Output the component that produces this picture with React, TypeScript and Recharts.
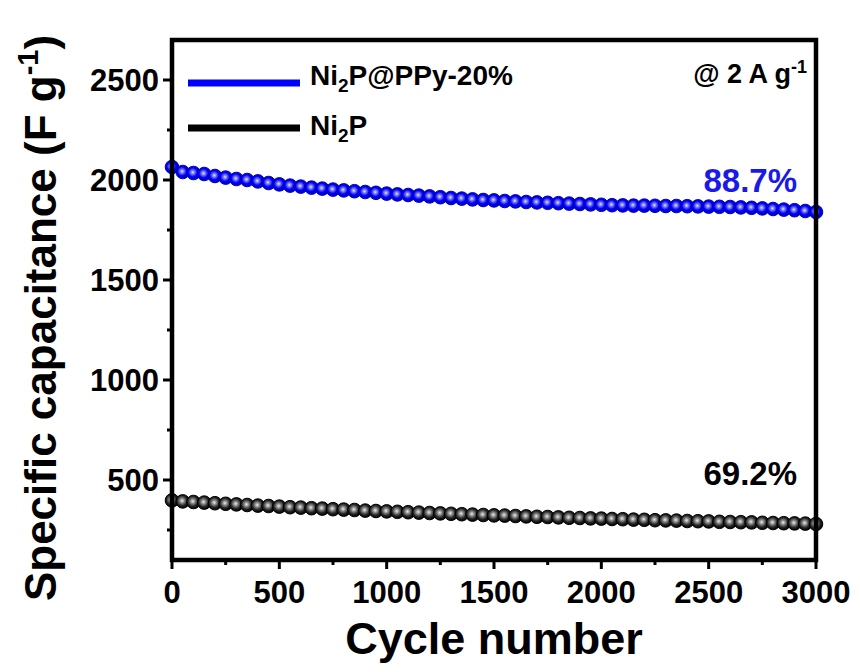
import React from 'react';
import {
  LineChart,
  Line,
  XAxis,
  YAxis
} from 'recharts';

const cycles = [
  0, 50, 100, 150, 200, 250, 300, 350, 400, 450,
  500, 550, 600, 650, 700, 750, 800, 850, 900, 950,
  1000, 1050, 1100, 1150, 1200, 1250, 1300, 1350, 1400, 1450,
  1500, 1550, 1600, 1650, 1700, 1750, 1800, 1850, 1900, 1950,
  2000, 2050, 2100, 2150, 2200, 2250, 2300, 2350, 2400, 2450,
  2500, 2550, 2600, 2650, 2700, 2750, 2800, 2850, 2900, 2950,
  3000
];

const ni2pPpy = [
  2065, 2040, 2035, 2030, 2020, 2012, 2005, 2000, 1993, 1985,
  1978, 1972, 1967, 1962, 1957, 1952, 1948, 1944, 1940, 1936,
  1932, 1928, 1925, 1922, 1918, 1914, 1910, 1907, 1903, 1900,
  1898, 1895, 1893, 1890, 1888, 1886, 1884, 1882, 1880, 1878,
  1876, 1874, 1873, 1872, 1872, 1871, 1870, 1870, 1869, 1868,
  1867, 1866, 1865, 1863, 1861, 1858, 1855, 1852, 1849, 1845,
  1840
];

const ni2p = [
  398, 393, 390, 387, 384, 381, 378, 375, 372, 370,
  367, 364, 362, 359, 357, 354, 352, 350, 347, 345,
  343, 341, 339, 337, 335, 333, 331, 329, 327, 325,
  323, 322, 320, 318, 316, 315, 313, 311, 310, 308,
  307, 305, 304, 302, 301, 299, 298, 297, 295, 294,
  293, 291, 290, 289, 288, 286, 285, 284, 283, 282,
  280
];

const xTicks = [0, 250, 500, 750, 1000, 1250, 1500, 1750, 2000, 2250, 2500, 2750, 3000];
const yTicks = [250, 500, 750, 1000, 1250, 1500, 1750, 2000, 2250, 2500];

const data = cycles.map((c, i) => ({ cycle: c, hybrid: ni2pPpy[i], bare: ni2p[i] }));

const FONT = '"Liberation Sans", Arial, sans-serif';

// plot box (matches the chart margins / axis sizes below)
const PLOT = { left: 172, top: 40, right: 816, bottom: 560 };

const XTick = (props: any) => {
  const { x, y, payload } = props;
  const major = payload.value % 500 === 0;
  return (
    <g>
      <line x1={x} x2={x} y1={y} y2={y + (major ? 9 : 5)} stroke="#000" strokeWidth={3} />
      {major && (
        <text x={x} y={y + 43} textAnchor="middle" fontFamily={FONT} fontWeight="bold" fontSize={31} fill="#000">
          {payload.value}
        </text>
      )}
    </g>
  );
};

const YTick = (props: any) => {
  const { x, y, payload } = props;
  const major = payload.value % 500 === 0;
  return (
    <g>
      <line x1={x} x2={x - (major ? 9 : 5)} y1={y} y2={y} stroke="#000" strokeWidth={3} />
      {major && (
        <text x={x - 13} y={y + 11} textAnchor="end" fontFamily={FONT} fontWeight="bold" fontSize={31} fill="#000">
          {payload.value}
        </text>
      )}
    </g>
  );
};

const BlueDot = (props: any) => {
  const { cx, cy, index } = props;
  return <circle key={'b' + index} cx={cx} cy={cy} r={6.8} fill="url(#ballBlue)" stroke="#0000b8" strokeWidth={1} />;
};

const BlackDot = (props: any) => {
  const { cx, cy, index } = props;
  return <circle key={'k' + index} cx={cx} cy={cy} r={6.8} fill="url(#ballBlack)" stroke="#000" strokeWidth={1} />;
};

export default function App() {
  return (
    <div style={{ position: 'relative', width: 860, height: 672 }}>
      <style>{'body{margin:0}'}</style>
      <LineChart
        width={860}
        height={672}
        data={data}
        margin={{ top: PLOT.top, right: 860 - PLOT.right, bottom: 0, left: 0 }}
      >
        <defs>
          <radialGradient id="ballBlue" cx="45%" cy="45%" r="55%">
            <stop offset="0%" stopColor="#e8e8ff" />
            <stop offset="25%" stopColor="#7a7aff" />
            <stop offset="60%" stopColor="#0000f5" />
            <stop offset="100%" stopColor="#0000c8" />
          </radialGradient>
          <radialGradient id="ballBlack" cx="45%" cy="45%" r="55%">
            <stop offset="0%" stopColor="#eeeeee" />
            <stop offset="28%" stopColor="#909090" />
            <stop offset="65%" stopColor="#262626" />
            <stop offset="100%" stopColor="#000" />
          </radialGradient>
        </defs>
        <XAxis
          dataKey="cycle"
          type="number"
          domain={[0, 3000]}
          ticks={xTicks}
          interval={0}
          height={672 - PLOT.bottom}
          axisLine={false}
          tickLine={false}
          tickSize={0}
          tickMargin={0}
          tick={<XTick />}
          label={{
            value: 'Cycle number',
            position: 'insideBottom',
            offset: 18,
            style: { fontFamily: FONT, fontWeight: 'bold', fontSize: 45, fill: '#000' }
          }}
        />
        <YAxis
          type="number"
          domain={[100, 2700]}
          ticks={yTicks}
          interval={0}
          width={PLOT.left}
          axisLine={false}
          tickLine={false}
          tickSize={0}
          tickMargin={0}
          tick={<YTick />}
        />
        <Line
          dataKey="bare"
          stroke="#000"
          strokeWidth={3}
          dot={<BlackDot />}
          activeDot={false}
          isAnimationActive={false}
        />
        <Line
          dataKey="hybrid"
          stroke="#0000ff"
          strokeWidth={3}
          dot={<BlueDot />}
          activeDot={false}
          isAnimationActive={false}
        />
      </LineChart>
      <svg
        width={860}
        height={672}
        style={{ position: 'absolute', left: 0, top: 0, pointerEvents: 'none' }}
        fontFamily={FONT}
        fontWeight="bold"
      >
        <text transform="translate(56,318) rotate(-90)" textAnchor="middle" fontSize={44} fill="#000">
          Specific capacitance (F g<tspan fontSize={29} dy={-18}>-1</tspan><tspan dy={18}>)</tspan>
        </text>
        <line x1={188} x2={300} y1={83} y2={83} stroke="#0000ff" strokeWidth={7} />
        <text x={310} y={85} fontSize={28} fill="#000">
          Ni<tspan fontSize={19} dy={7}>2</tspan><tspan dy={-7}>P@PPy-20%</tspan>
        </text>
        <line x1={188} x2={300} y1={128} y2={128} stroke="#000" strokeWidth={7} />
        <text x={310} y={135} fontSize={28} fill="#000">
          Ni<tspan fontSize={19} dy={7}>2</tspan><tspan dy={-7}>P</tspan>
        </text>
        <text x={807} y={83} textAnchor="end" fontSize={27} fill="#000">
          @ 2 A g<tspan fontSize={18} dy={-10}>-1</tspan>
        </text>
        <text x={797} y={192} textAnchor="end" fontSize={33} fill="#1a1ae8">88.7%</text>
        <text x={797} y={485} textAnchor="end" fontSize={33} fill="#000">69.2%</text>
        <path
          d={`M${PLOT.left},${PLOT.top}H${PLOT.right}V${PLOT.bottom}H${PLOT.left}Z`}
          fill="none"
          stroke="#000"
          strokeWidth={4.5}
        />
      </svg>
    </div>
  );
}
